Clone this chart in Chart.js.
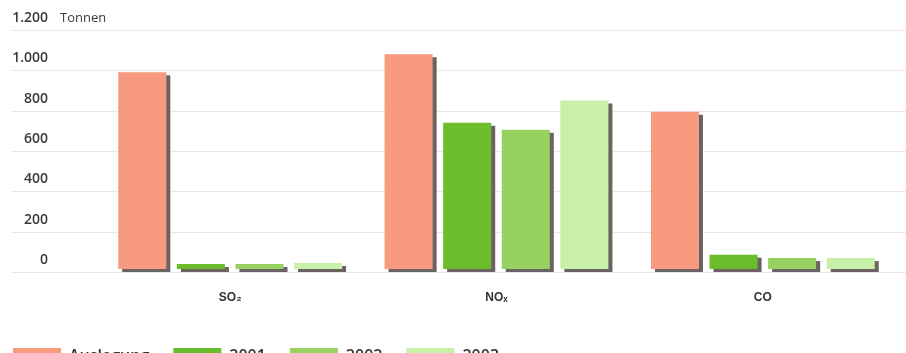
<!DOCTYPE html>
<html>
<head>
<meta charset="utf-8">
<script src="https://cdn.jsdelivr.net/npm/chart.js@4.4.1/dist/chart.umd.min.js"></script>
<style>
  html, body { margin: 0; padding: 0; background: #fff; overflow: hidden; }
  #wrap { position: relative; width: 906px; height: 362px; }
</style>
</head>
<body>
<div id="wrap"><canvas id="emissionChart"></canvas></div>
<script>
// data (Tonnen)
const categories = ['SO\u2082', 'NO\u2093', 'CO'];
const auslegung = [990, 1080, 795];
const values2001 = [40, 740, 85];
const values2002 = [40, 705, 70];
const values2003 = [45, 850, 70];
const yTickValues = [0, 200, 400, 600, 800, 1000, 1200];
const yTickLabels = ['0', '200', '400', '600', '800', '1.000', '1.200'];

// light grid lines running across the whole width, labels included
const gridPlugin = {
  id: 'fullGrid',
  beforeDatasetsDraw(chart) {
    const ctx = chart.ctx;
    const y = chart.scales.y;
    ctx.save();
    ctx.strokeStyle = '#ece6e6';
    ctx.lineWidth = 1;
    yTickValues.forEach(v => {
      const py = Math.round(y.getPixelForValue(v)) + 0.5;
      ctx.beginPath();
      ctx.moveTo(12, py);
      ctx.lineTo(chart.width, py);
      ctx.stroke();
    });
    ctx.fillStyle = '#3a3a3a';
    ctx.font = '13px "Open Sans"';
    ctx.textBaseline = 'middle';
    ctx.fillText('Tonnen', 60, y.getPixelForValue(1200) - 12);
    ctx.restore();

    // flat dark shadow to the lower right of every bar
    ctx.save();
    ctx.shadowColor = '#6b6262';
    ctx.shadowOffsetX = 4;
    ctx.shadowOffsetY = 3;
    ctx.shadowBlur = 0;
  },
  afterDatasetsDraw(chart) {
    chart.ctx.restore();
  },
  beforeDraw(chart) {
    // legend sits flush left at the bottom edge
    const lg = chart.legend;
    lg.left = 13 - lg.options.labels.padding;
    lg.top = 348 - lg.options.labels.padding;
  }
};

const ctx = document.getElementById('emissionChart').getContext('2d');
const emissionChart = new Chart(ctx, {
  type: 'bar',
  data: {
    labels: categories,
    datasets: [
      { label: 'Auslegung', data: auslegung, backgroundColor: '#f89a80' },
      { label: '2001', data: values2001, backgroundColor: '#6cbd2c' },
      { label: '2002', data: values2002, backgroundColor: '#97d160' },
      { label: '2003', data: values2003, backgroundColor: '#c9f0a9' }
    ]
  },
  options: {
    responsive: true,
    maintainAspectRatio: false,
    animation: false,
    layout: { padding: { top: 30, right: 10, left: 0, bottom: 0 } },
    datasets: {
      bar: { categoryPercentage: 0.88, barPercentage: 0.82, base: 15 }
    },
    plugins: {
      legend: {
        position: 'bottom',
        align: 'start',
        labels: {
          boxWidth: 48,
          boxHeight: 16,
          padding: 24,
          color: '#333',
          font: { family: '"Open Sans"', size: 16, weight: '600' }
        }
      },
      tooltip: { enabled: false }
    },
    scales: {
      x: {
        grid: { display: false, drawTicks: false },
        border: { display: false },
        ticks: {
          padding: 18,
          color: '#333',
          font: { family: '"Liberation Sans"', size: 12, weight: 'bold' }
        },
        afterFit(scale) { scale.height = 40; }
      },
      y: {
        min: 0,
        max: 1200,
        grid: { display: false, drawTicks: false },
        border: { display: false },
        ticks: {
          stepSize: 200,
          padding: 49,
          labelOffset: -12,
          color: '#3a3a3a',
          font: { family: '"Open Sans"', size: 14, weight: '600' },
          callback: (v) => yTickLabels[yTickValues.indexOf(v)]
        },
        afterFit(scale) {
          scale.width = 97;
          scale.paddingTop = 0;
          scale.paddingBottom = 0;
        }
      }
    }
  },
  plugins: [gridPlugin]
});
</script>
</body>
</html>
